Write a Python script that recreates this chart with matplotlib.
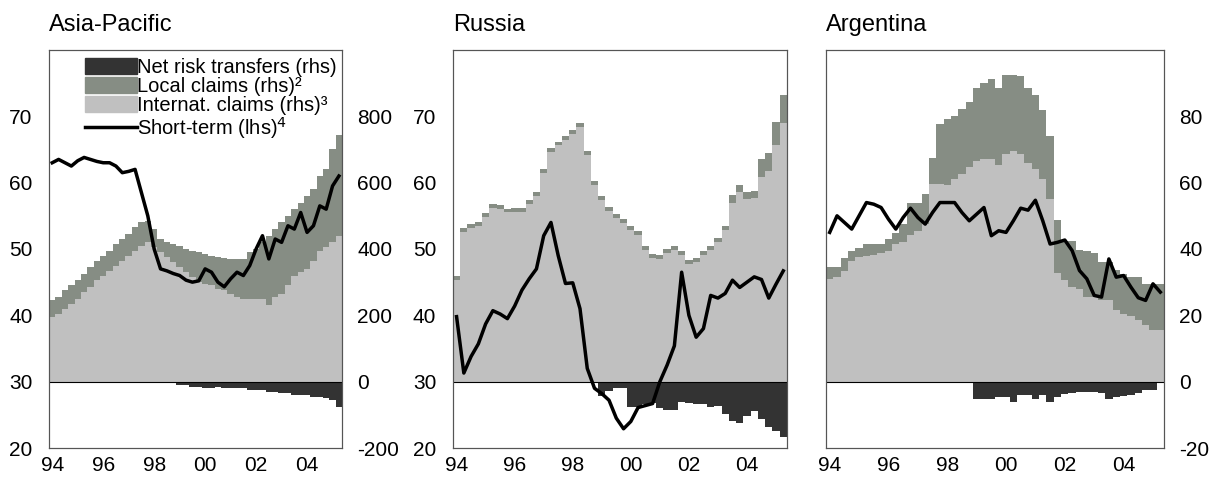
import numpy as np
import matplotlib
matplotlib.use('Agg')
import matplotlib.pyplot as plt
from matplotlib.patches import Patch
from matplotlib.lines import Line2D

plt.rcParams['font.family'] = ['Liberation Sans', 'DejaVu Sans']
plt.rcParams['axes.unicode_minus'] = False

# quarterly data 1994Q1 - 2005Q2
quarters = 1994 + np.arange(46) * 0.25

# Asia-Pacific (rhs, bn USD; line lhs %)
ap_total = [245, 255, 275, 290, 305, 325, 345, 365, 380, 395, 415, 430, 445, 465, 480, 485,
            460, 430, 420, 415, 410, 400, 395, 390, 385, 380, 375, 372, 370, 370, 370, 390,
            400, 420, 440, 460, 480, 500, 520, 540, 560, 580, 620, 640, 700, 745]
ap_intl = [195, 205, 220, 235, 250, 270, 285, 305, 320, 335, 350, 365, 380, 395, 410, 420,
           405, 390, 375, 360, 345, 330, 315, 300, 295, 290, 280, 275, 265, 255, 250, 250,
           250, 250, 230, 255, 265, 290, 320, 330, 340, 365, 395, 405, 420, 440]
ap_net = [0] * 20 + [-10, -10, -15, -15, -20, -20, -15, -20, -20, -20, -20, -25, -25, -25, -30,
                     -30, -35, -35, -40, -40, -40, -45, -45, -50, -55, -75]
ap_short = [63, 63.5, 63, 62.5, 63.3, 63.8, 63.5, 63.2, 63, 63, 62.5, 61.5, 61.7, 62, 58.5, 55,
            50, 47, 46.7, 46.3, 46, 45.3, 45, 45.2, 47, 46.5, 45, 44.3, 45.5, 46.5, 46, 47.5,
            50, 52, 48.5, 51.5, 51, 53.5, 53, 55.5, 52.5, 53.5, 56.5, 56, 59.5, 61]

# Russia (bars as offset above the 30 line)
ru_total = [15.9, 23.1, 23.7, 24.1, 25.4, 26.8, 26.6, 26.1, 26.2, 26.2, 27.4, 28.6, 32, 35.2,
            36.2, 37.1, 38, 39, 34.7, 30.2, 28, 26.4, 25.2, 24.5, 23.4, 22.7, 20.4, 19.2, 19.1,
            20, 20.5, 19.7, 18.4, 18.6, 19.7, 20.4, 21.6, 23.4, 28.2, 29.6, 28.6, 28.7, 33.6,
            34.5, 39.2, 43.2]
ru_local = [0.6] * 38 + [1.2, 1.0, 1.0, 1.0, 2.7, 2.8, 3.5, 4.2]
ru_net = [0] * 20 + [-2.1, -1.4, -0.9, -0.9, -3.8, -3.8, -3.4, -3.2, -3.9, -4.2, -4.2, -3, -3.2,
                     -3.3, -3.4, -3.8, -3.7, -4.9, -5.9, -6.2, -5.2, -4.4, -5.7, -6.9, -7.4, -8.4]
ru_short = [39.8, 31.3, 33.8, 35.7, 38.7, 40.7, 40.2, 39.5, 41.4, 43.8, 45.5, 47, 52, 54, 49,
            44.8, 44.9, 41, 32, 29, 28.2, 27.2, 24.5, 22.9, 24, 26.1, 26.4, 26.7, 30, 32.5,
            35.4, 46.5, 40, 36.7, 38, 43, 42.6, 43.3, 45.3, 44.2, 45, 45.8, 45.4, 42.6, 44.7, 46.7]

# Argentina (rhs)
ar_total = [34.7, 34.7, 37.3, 39.5, 40.3, 41.5, 41.5, 41.5, 43, 44.7, 47.5, 54, 54, 56.5, 67.3,
            77.7, 79.3, 80, 82.3, 84.2, 88.5, 90, 91.3, 88.5, 92.5, 92.5, 92.2, 88.5, 86.3, 82,
            74, 48.7, 42.5, 42.5, 39.7, 39.5, 38.7, 36, 36, 33.7, 32.5, 31.5, 31.5, 29.5, 29.5, 29.5]
ar_intl = [31, 31.5, 33.5, 36.5, 37.5, 38, 38.3, 38.7, 39.5, 41.5, 42, 44.3, 45.3, 47.5, 59.5,
           59.7, 59.3, 61, 62.5, 64.7, 66.5, 67, 67, 65.3, 68.5, 69.5, 68.7, 66, 64, 61, 55,
           32.7, 30.5, 28.5, 28, 25.5, 25.5, 24.5, 24.5, 21.5, 20.3, 19.7, 18.5, 17, 15.7, 15.7]
ar_net = [0] * 20 + [-5.3, -5.3, -5.3, -4.5, -4.5, -6, -4, -4, -5.3, -4, -6, -4.5, -3.7, -3.5,
                     -3, -3, -3.2, -3.5, -5.3, -4.7, -4.3, -4, -3.5, -2.5, -2.5, -0.5]
ar_short = [45, 50, 48, 46, 50, 54, 53.5, 52.5, 49, 46, 49.5, 52.3, 49.5, 47.5, 51, 54, 54, 54,
            51, 48.5, 50.5, 52.5, 44, 45.5, 45, 48.5, 52.3, 51.7, 54.7, 48.5, 41.5, 42, 42.7,
            39.5, 33.5, 31, 26, 25.5, 37, 31.5, 32, 28.5, 25.3, 24.5, 29.5, 27]

year_ticks = [1994, 1996, 1998, 2000, 2002, 2004]
year_labels = ['94', '96', '98', '00', '02', '04']

c_net, c_local, c_intl = '#333333', '#868d84', '#c0c0c0'

fig = plt.figure(figsize=(12.14, 4.79), dpi=100)
pos = [[0.0404, 0.0647, 0.2414, 0.831],
       [0.3731, 0.0647, 0.2751, 0.831],
       [0.6804, 0.0647, 0.2784, 0.831]]
titles = ['Asia-Pacific', 'Russia', 'Argentina']


def draw(p, title, total, intl, net, short, bar_lim, line_lim, show_l, show_r, bar_ticks, line_ticks):
    axl = fig.add_axes(p)
    axr = axl.twinx()
    axl.set_zorder(axr.get_zorder() + 1)
    axl.patch.set_visible(False)
    axr.bar(quarters, total, width=0.25, color=c_local, linewidth=0)
    axr.bar(quarters, intl, width=0.25, color=c_intl, linewidth=0)
    axr.bar(quarters, net, width=0.25, color=c_net, linewidth=0)
    axr.axhline(0, color='black', lw=0.8)
    axr.set_ylim(*bar_lim)
    axl.plot(quarters, short, color='black', lw=2.5)
    axl.set_ylim(*line_lim)
    axl.set_xlim(1993.875, 2005.375)
    axl.set_xticks(year_ticks)
    axl.set_xticklabels(year_labels)
    for ax in (axl, axr):
        ax.tick_params(length=0, labelsize=15, pad=6)
        for s in ax.spines.values():
            s.set_color('#555555')
            s.set_linewidth(0.8)
    axl.set_yticks(line_ticks if show_l else [])
    axr.set_yticks(bar_ticks if show_r else [])
    if show_r:
        axr.tick_params(pad=11)
    if show_l:
        axl.tick_params(axis='y', pad=12)
    axl.text(0, 1.035, title, transform=axl.transAxes, fontsize=17, ha='left', va='bottom')
    return axl


ax1 = draw(pos[0], titles[0], ap_total, ap_intl, ap_net, ap_short, (-200, 1000), (20, 80),
           True, True, [-200, 0, 200, 400, 600, 800], [20, 30, 40, 50, 60, 70])
ru_tot = np.array(ru_total)
draw(pos[1], titles[1], ru_tot, ru_tot - np.array(ru_local), ru_net, ru_short, (-10, 50), (20, 80),
     True, False, [], [20, 30, 40, 50, 60, 70])
draw(pos[2], titles[2], ar_total, ar_intl, ar_net, ar_short, (-20, 100), (-20, 100),
     False, True, [-20, 0, 20, 40, 60, 80], [])

handles = [Patch(color=c_net), Patch(color=c_local), Patch(color=c_intl),
           Line2D([], [], color='black', lw=2.5)]
labels = ['Net risk transfers (rhs)', 'Local claims (rhs)²', 'Internat. claims (rhs)³',
          'Short-term (lhs)$^4$']
ax1.legend(handles, labels, loc='upper left', bbox_to_anchor=(0.095, 1.0), frameon=False,
           fontsize=14.5, handlelength=2.6, handleheight=0.8, handletextpad=0.0, labelspacing=0.0,
           borderaxespad=0)

fig.savefig('out.png', dpi=100)
